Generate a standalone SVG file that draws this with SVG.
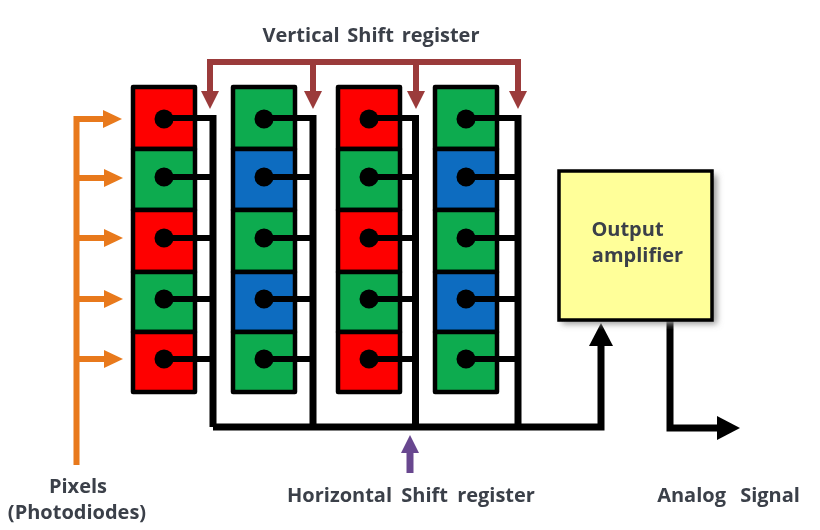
<svg xmlns="http://www.w3.org/2000/svg" width="820" height="530" viewBox="0 0 820 530">
<defs>
<filter id="soft" x="-5%" y="-5%" width="110%" height="110%"><feGaussianBlur stdDeviation="0.7"/></filter>
<filter id="shadow" x="-10%" y="-10%" width="120%" height="120%"><feGaussianBlur stdDeviation="3"/></filter>
<marker id="ah-brown" markerUnits="userSpaceOnUse" markerWidth="20" markerHeight="20" refX="1" refY="9.5" orient="auto" overflow="visible"><path d="M0 0.5L18 9.5L0 18.500Z" fill="#9b3a3a"/></marker>
<marker id="ah-orange" markerUnits="userSpaceOnUse" markerWidth="22" markerHeight="20" refX="1" refY="9.5" orient="auto" overflow="visible"><path d="M0 0.5L19 9.5L0 18.500Z" fill="#e8791a"/></marker>
<marker id="ah-black" markerUnits="userSpaceOnUse" markerWidth="26" markerHeight="26" refX="1" refY="12" orient="auto" overflow="visible"><path d="M0 0L23 12L0 24Z" fill="#000"/></marker>
<marker id="ah-purple" markerUnits="userSpaceOnUse" markerWidth="20" markerHeight="20" refX="1" refY="9" orient="auto" overflow="visible"><path d="M0 0L18 9L0 18Z" fill="#68478f"/></marker>
</defs>
<style>
text{font-family:"Open Sans","Noto Sans","DejaVu Sans",sans-serif;font-weight:700;font-size:20px;fill:#3a3f48;text-anchor:middle}
.r{fill:#fe0000}.g{fill:#0bab4f}.b{fill:#0a6cc0}
.c rect{stroke:#000;stroke-width:4.5;stroke-linejoin:round}
.wire{fill:none;stroke:#000;stroke-width:6}
.bus{fill:none;stroke:#000;stroke-width:7}
.brown{fill:none;stroke:#9b3a3a;stroke-width:6}
.orange{fill:none;stroke:#e8791a;stroke-width:6}
</style>
<rect width="820" height="530" fill="#fff"/>
<g id="diagram" filter="url(#soft)">
<g id="connectors">
<g id="vertical-shift">
<path class="brown" d="M207 62H521"/>
<path class="brown" d="M210 59V92" marker-end="url(#ah-brown)"/>
<path class="brown" d="M313 62V92" marker-end="url(#ah-brown)"/>
<path class="brown" d="M416 62V92" marker-end="url(#ah-brown)"/>
<path class="brown" d="M518 59V92" marker-end="url(#ah-brown)"/>
</g>
<g id="pixel-arrows">
<path class="orange" d="M76.500 465V116"/>
<path class="orange" d="M74 119H104" marker-end="url(#ah-orange)"/>
<path class="orange" d="M77 178H105" marker-end="url(#ah-orange)"/>
<path class="orange" d="M77 238H105" marker-end="url(#ah-orange)"/>
<path class="orange" d="M77 299H105" marker-end="url(#ah-orange)"/>
<path class="orange" d="M77 359H105" marker-end="url(#ah-orange)"/>
</g>
<path class="bus" d="M213 427H601V345" marker-end="url(#ah-black)"/>
<path class="bus" d="M670 320V428H718" marker-end="url(#ah-black)"/>
<path d="M410 473V452" fill="none" stroke="#68478f" stroke-width="7" marker-end="url(#ah-purple)"/>
</g>
<g id="buses">
<path class="bus" d="M213 115V427M313 115V427M415.500 115V427M518 115V427"/>
</g>
<g id="column-1" class="c">
<rect class="r" x="133" y="87" width="62" height="62"/><rect class="g" x="133" y="149" width="62" height="61"/><rect class="r" x="133" y="210" width="62" height="62"/><rect class="g" x="133" y="272" width="62" height="60"/><rect class="r" x="133" y="332" width="62" height="60"/>
</g>
<g id="column-2" class="c">
<rect class="g" x="233" y="87" width="62" height="62"/><rect class="b" x="233" y="149" width="62" height="61"/><rect class="g" x="233" y="210" width="62" height="62"/><rect class="b" x="233" y="272" width="62" height="60"/><rect class="g" x="233" y="332" width="62" height="60"/>
</g>
<g id="column-3" class="c">
<rect class="r" x="338" y="87" width="62" height="62"/><rect class="g" x="338" y="149" width="62" height="61"/><rect class="r" x="338" y="210" width="62" height="62"/><rect class="g" x="338" y="272" width="62" height="60"/><rect class="r" x="338" y="332" width="62" height="60"/>
</g>
<g id="column-4" class="c">
<rect class="g" x="435" y="87" width="62" height="62"/><rect class="b" x="435" y="149" width="62" height="61"/><rect class="g" x="435" y="210" width="62" height="62"/><rect class="b" x="435" y="272" width="62" height="60"/><rect class="g" x="435" y="332" width="62" height="60"/>
</g>
<g id="pixel-taps">
<path class="wire" d="M164 118H216M164 177H213M164 238H213M164 299H213M164 359H213"/>
<path class="wire" d="M264 118H316M264 177H313M264 238H313M264 299H313M264 359H313"/>
<path class="wire" d="M369 118H418M369 177H415M369 238H415M369 299H415M369 359H415"/>
<path class="wire" d="M466 118H521M466 177H517M466 238H517M466 299H517M466 359H517"/>
<g fill="#000">
<circle cx="164" cy="119" r="9.500"/><circle cx="164" cy="177" r="9.500"/><circle cx="164" cy="238" r="9.500"/><circle cx="164" cy="299" r="9.500"/><circle cx="164" cy="359" r="9.500"/>
<circle cx="264" cy="119" r="9.500"/><circle cx="264" cy="177" r="9.500"/><circle cx="264" cy="238" r="9.500"/><circle cx="264" cy="299" r="9.500"/><circle cx="264" cy="359" r="9.500"/>
<circle cx="369" cy="119" r="9.500"/><circle cx="369" cy="177" r="9.500"/><circle cx="369" cy="238" r="9.500"/><circle cx="369" cy="299" r="9.500"/><circle cx="369" cy="359" r="9.500"/>
<circle cx="466" cy="119" r="9.500"/><circle cx="466" cy="177" r="9.500"/><circle cx="466" cy="238" r="9.500"/><circle cx="466" cy="299" r="9.500"/><circle cx="466" cy="359" r="9.500"/>
</g>
</g>
<g id="output-amplifier">
<rect x="562" y="175" width="155" height="149" fill="#999" filter="url(#shadow)"/>
<rect x="559" y="171" width="153" height="149" fill="#ffff99" stroke="#000" stroke-width="3.500"/>
<text x="627.500" y="236">Output</text>
<text x="637.500" y="262">amplifier</text>
</g>
<g id="labels">
<text x="371" y="42" word-spacing="2.500">Vertical Shift register</text>
<text x="411" y="502" word-spacing="4">Horizontal Shift register</text>
<text x="728.500" y="502" word-spacing="9">Analog Signal</text>
<text x="78" y="493">Pixels</text>
<text x="77" y="519">(Photodiodes)</text>
</g>
</g>
</svg>
